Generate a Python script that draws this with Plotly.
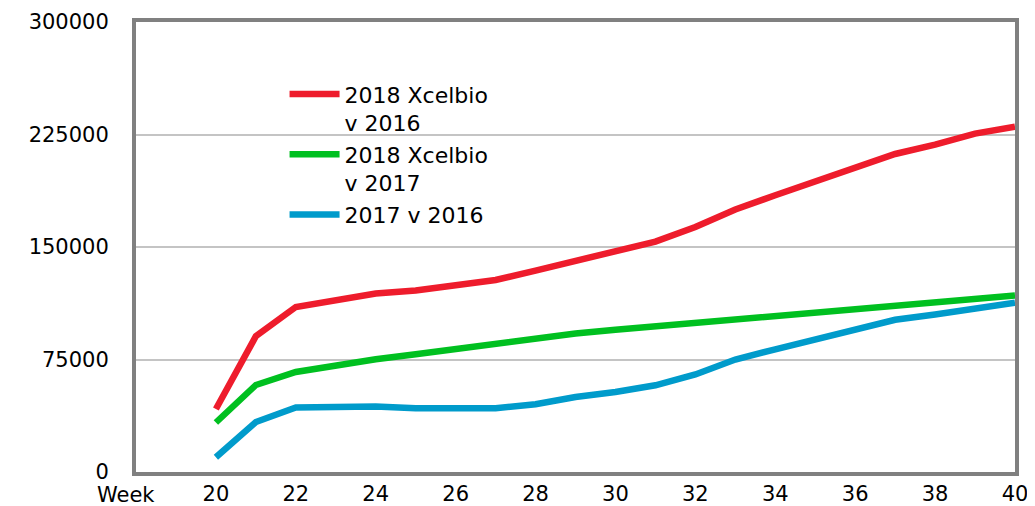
import plotly.graph_objects as go

weeks = list(range(20, 41))
red_2018_v_2016 = [42000, 90500, 110000, 114800, 119000, 121000, 124000, 128000, 134300,
                   141000, 147000, 153600, 163300, 175000, 184500, 193500, 203500, 212000,
                   218300, 225600, 230200]
green_2018_v_2017 = [33000, 58000, 66700, 71200, 75200, 78500, 82100, 86100, 89400,
                     92300, 94800, 97000, 99200, 101300, 103500, 106500, 108500, 110300,
                     112600, 115500, 117700]
blue_2017_v_2016 = [9800, 33300, 43000, 43500, 43700, 42500, 42100, 42500, 45200,
                    50000, 53300, 57800, 65000, 75000, 81800, 88400, 95200, 101500,
                    105000, 109400, 112800]
series_names = ["2018 Xcelbio<br>v 2016", "2018 Xcelbio<br>v 2017", "2017 v 2016"]
series_colors = ["#EE1C2C", "#00C020", "#009BCB"]
x_ticks = list(range(20, 41, 2))
y_ticks = [0, 75000, 150000, 225000, 300000]

FONT = "DejaVu Sans"

fig = go.Figure()
for name, vals, col in zip(series_names, [red_2018_v_2016, green_2018_v_2017, blue_2017_v_2016], series_colors):
    fig.add_trace(go.Scatter(x=weeks, y=vals, name=name, mode="lines",
                             line=dict(color=col, width=6.5), cliponaxis=True))

fig.update_layout(
    template="none",
    width=1027, height=498,
    margin=dict(l=128, r=20, t=14, b=34, autoexpand=False),
    paper_bgcolor="white", plot_bgcolor="white",
    font=dict(family=FONT, color="black", size=21),
    showlegend=True,
    legend=dict(x=0.169, y=0.886, xanchor="left", yanchor="top",
                font=dict(family=FONT, size=22, color="black"),
                bgcolor="rgba(0,0,0,0)", valign="top", itemwidth=50,
                tracegroupgap=0),
    xaxis=dict(range=[18, 40], tickvals=x_ticks, ticktext=[str(t) for t in x_ticks],
               showgrid=False, zeroline=False, showline=True, mirror=True,
               linecolor="#808080", linewidth=4, ticks="", automargin=False,
               tickfont=dict(family=FONT, size=21, color="black")),
    yaxis=dict(range=[0, 300000], tickvals=y_ticks, ticktext=[str(t) for t in y_ticks],
               showgrid=True, gridcolor="#C4C4C4", gridwidth=1.5, zeroline=False,
               showline=True, mirror=True, linecolor="#808080", linewidth=4, ticks="",
               ticklabelstandoff=19, automargin=False,
               tickfont=dict(family=FONT, size=21, color="black")),
    annotations=[dict(text="Week", xref="paper", yref="paper", x=-0.047, y=-0.051,
                      xanchor="left", yanchor="middle", showarrow=False,
                      font=dict(family=FONT, size=21, color="black"))],
)

fig.write_html("out.html")
